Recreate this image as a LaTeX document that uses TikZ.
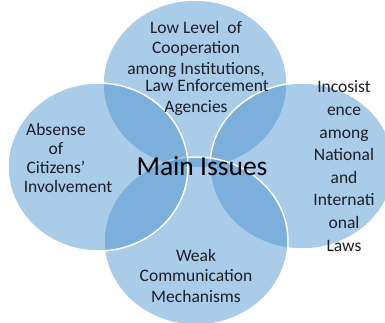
\documentclass[tikz,border=0pt]{standalone}
\usepackage{fontspec}
\setmainfont{Carlito}
\definecolor{venn}{RGB}{66,142,204}
\definecolor{ink}{RGB}{30,30,40}
\begin{document}
\begin{tikzpicture}[x=1pt,y=-1pt,
  issue/.style={fill=venn, fill opacity=0.45, draw=white, line width=1.5pt},
  label/.style={text=ink, align=center, inner sep=0pt, anchor=base,
    font=\fontsize{17.5}{20.5}\selectfont}]
\useasboundingbox (0,0) rectangle (385,322);
\fill[white] (0,0) rectangle (385,322);
% the four overlapping issue circles, drawn top, right, bottom, left
\begin{scope}
  \clip (0,0) rectangle (385,322);
  \path[issue] (195,84) ellipse [x radius=92, y radius=84];
  \path[issue] (302,166) ellipse [x radius=92, y radius=83];
  \path[issue] (196,241) ellipse [x radius=92, y radius=84];
  \path[issue] (98,167) ellipse [x radius=90, y radius=84];
\end{scope}
% labels (anchored on the baseline of their last line)
\node[label] (coop) at (196,112) {Low Level\ \ of\\Cooperation\\among Institutions,\\[-3pt]\hspace*{22pt}Law Enforcement\\Agencies};
\node[label, font=\fontsize{17.5}{22.6}\selectfont] (laws) at (344,251) {Incosist\\ence\\among\\National\\and\\Internati\\onal\\Laws};
\node[label] (comm) at (196,302) {Weak\\Communication\\Mechanisms};
\node[label, font=\fontsize{17.5}{19}\selectfont] (citz) at (56,192) {Absense\\of\\Citizens’\\\hspace*{24pt}Involvement};
\node[inner sep=0pt, anchor=base, text=black, font=\fontsize{27.5}{30}\selectfont] (main) at (202,175) {Main Issues};
\end{tikzpicture}
\end{document}
